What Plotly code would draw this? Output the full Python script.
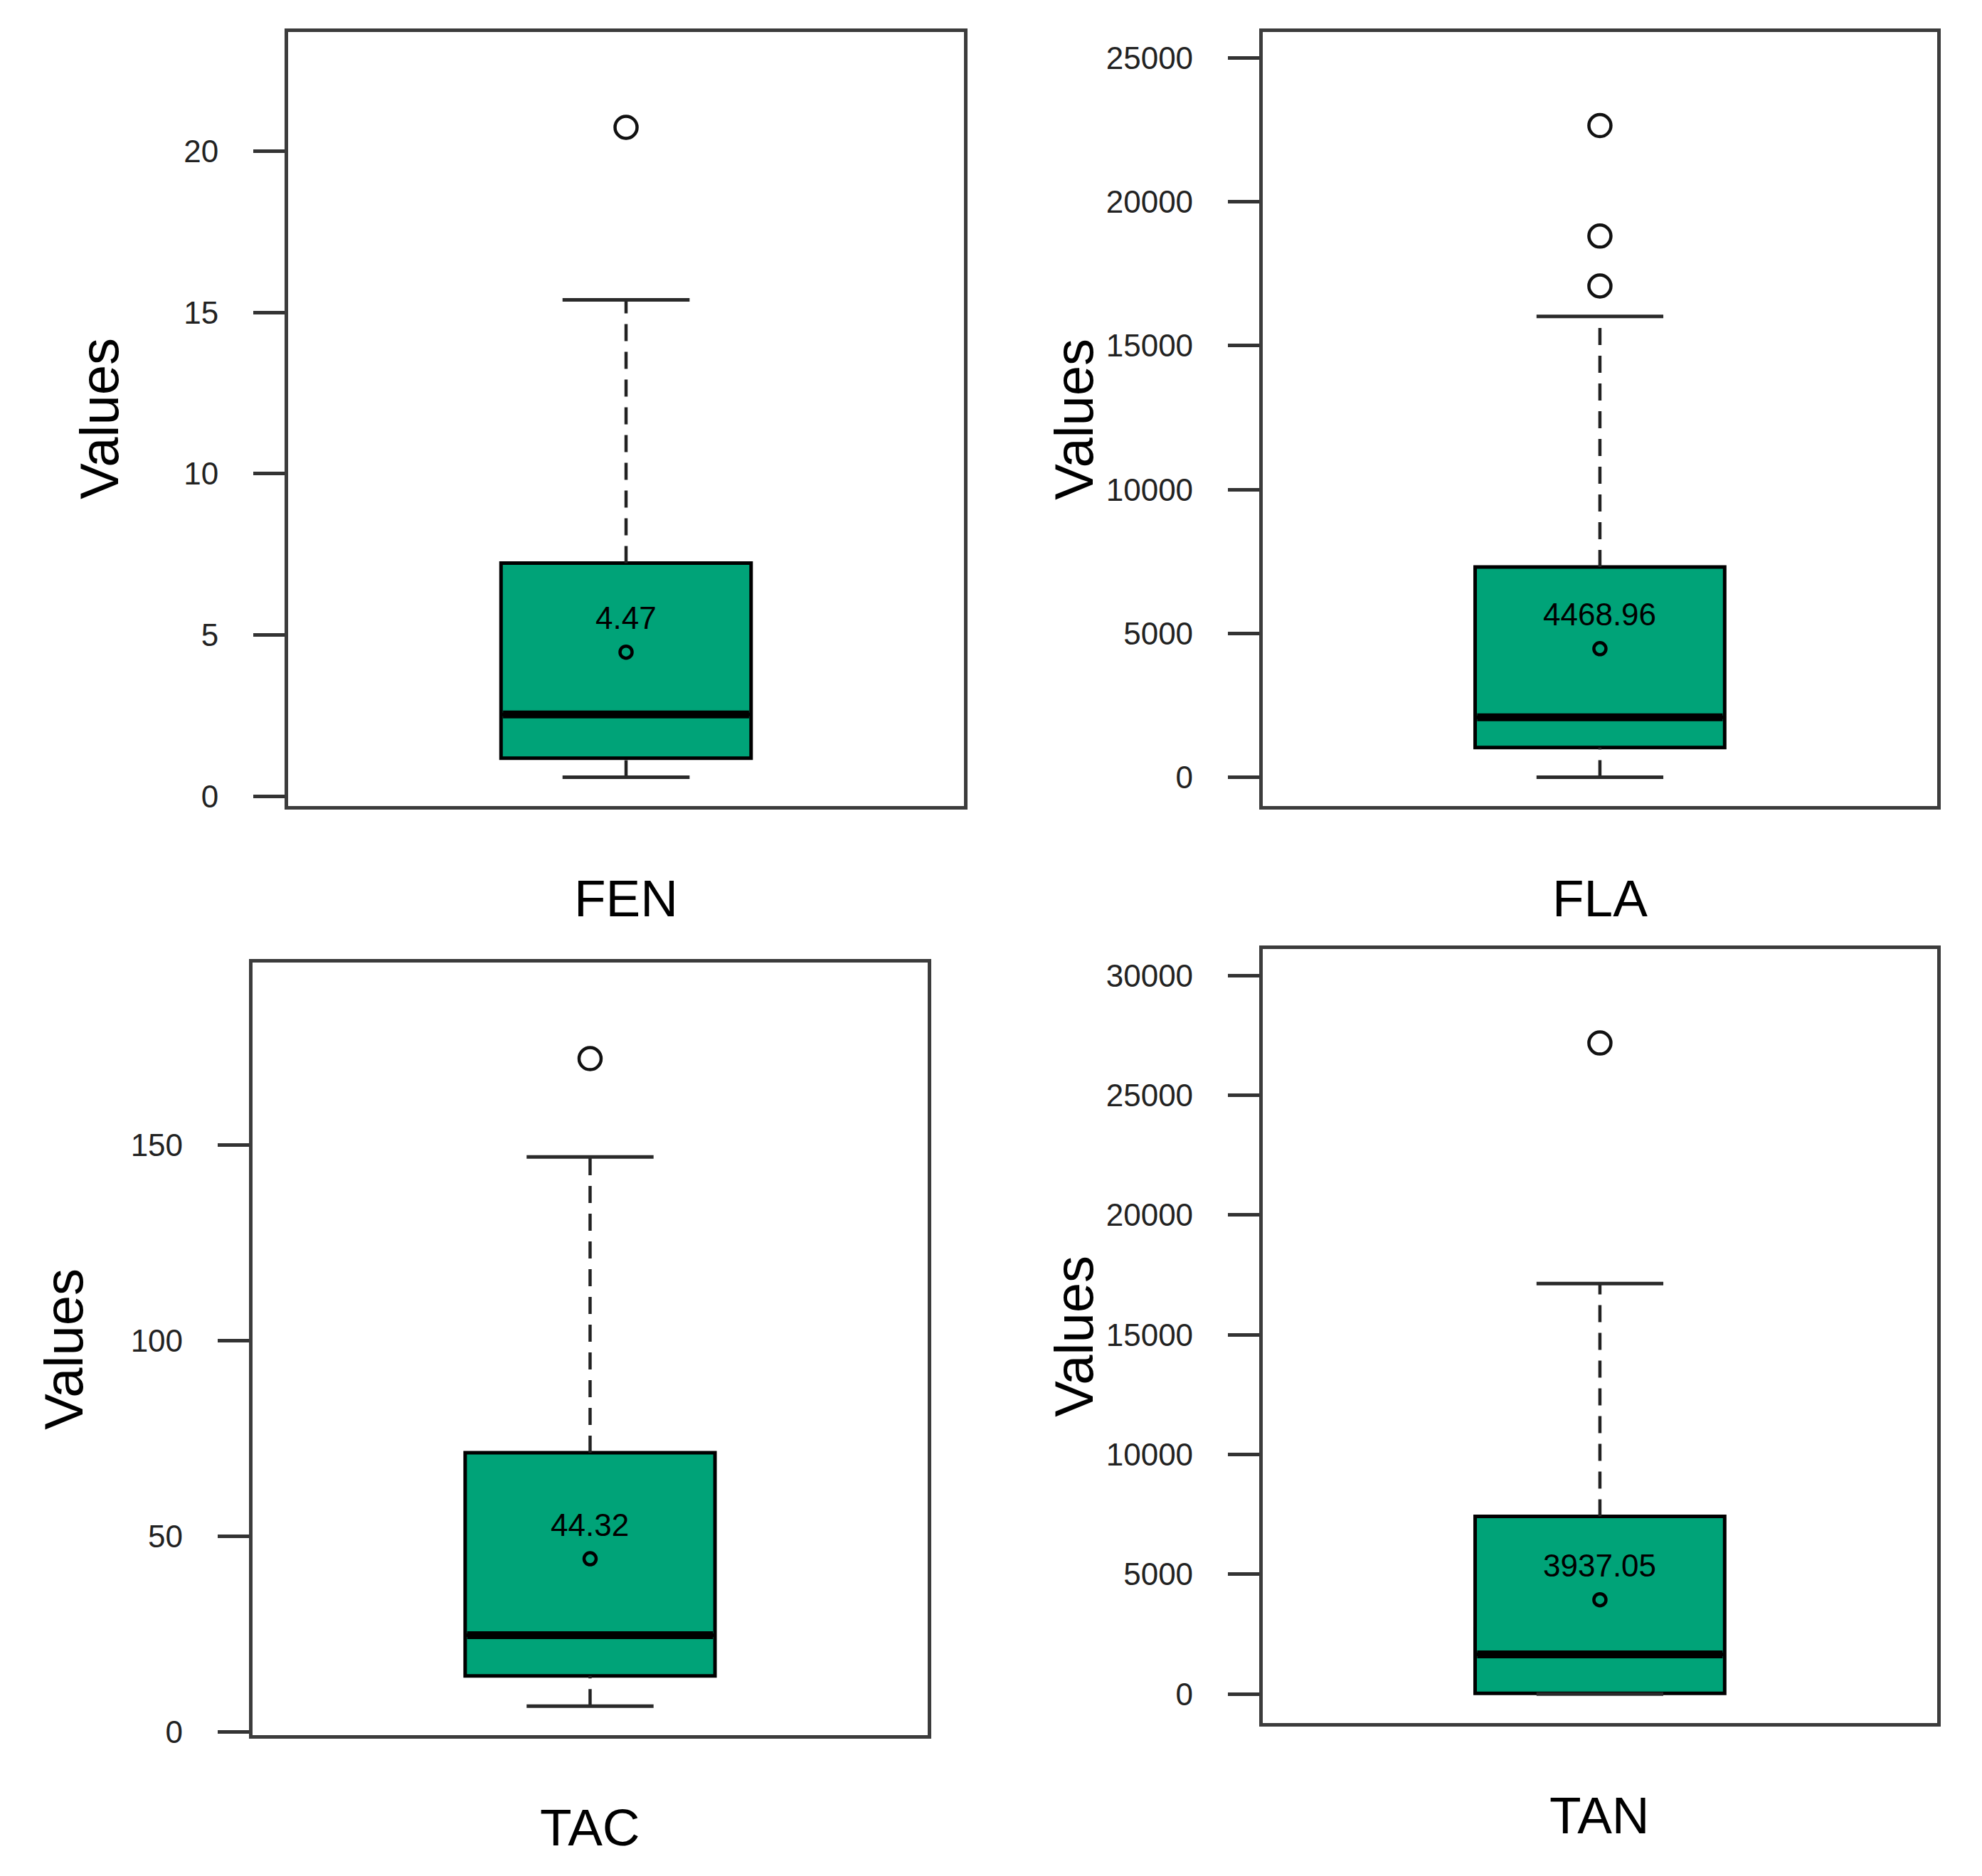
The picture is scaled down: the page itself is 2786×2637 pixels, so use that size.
import plotly.graph_objects as go

# summary stats
names = ["FEN", "FLA", "TAC", "TAN"]
q1 = [1.18, 1032, 14.4, 30]
medians = [2.54, 2085, 24.8, 1657]
q3 = [7.23, 7308, 71.4, 7420]
lower_whisker = [0.59, 0, 6.65, 0]
upper_whisker = [15.39, 16020, 147.0, 17140]
means = [4.47, 4468.96, 44.32, 3937.05]
outliers = [[20.74], [22650, 18810, 17075], [172.1], [27180]]
tick_values = [
    [0, 5, 10, 15, 20],
    [0, 5000, 10000, 15000, 20000, 25000],
    [0, 50, 100, 150],
    [0, 5000, 10000, 15000, 20000, 25000, 30000],
]

# panel placement (paper fractions)
x_domains = [[0.1425, 0.4835], [0.6342, 0.9745], [0.1245, 0.4652], [0.6342, 0.9745]]
y_domains = [[0.5700, 0.9860], [0.5700, 0.9860], [0.0709, 0.4858], [0.0774, 0.4930]]

FONT = "Liberation Sans, Arial, sans-serif"
GREEN = "#00A378"
BOX_W = 0.37
CAP = 0.094

fig = go.Figure()
annotations = []

for i, name in enumerate(names):
    k = "" if i == 0 else str(i + 1)
    xa, ya = "x" + k, "y" + k

    # box (whiskers drawn separately so they can be dashed)
    fig.add_trace(go.Box(
        x=[1], q1=[q1[i]], median=[medians[i]], q3=[q3[i]],
        lowerfence=[q1[i]], upperfence=[q3[i]],
        width=BOX_W, whiskerwidth=0, boxpoints=False,
        fillcolor=GREEN, line=dict(color="black", width=5),
        xaxis=xa, yaxis=ya, showlegend=False, hoverinfo="skip",
    ))
    # dashed whiskers
    for a, b in [(q3[i], upper_whisker[i]), (lower_whisker[i], q1[i])]:
        fig.add_trace(go.Scatter(
            x=[1, 1], y=[a, b], mode="lines",
            line=dict(color="#222222", width=4.5, dash="24px,15px"),
            xaxis=xa, yaxis=ya, showlegend=False, hoverinfo="skip",
        ))
    # whisker caps
    for v in [upper_whisker[i], lower_whisker[i]]:
        fig.add_trace(go.Scatter(
            x=[1 - CAP, 1 + CAP], y=[v, v], mode="lines",
            line=dict(color="#2a2a2a", width=5),
            xaxis=xa, yaxis=ya, showlegend=False, hoverinfo="skip",
        ))
    # thick median
    fig.add_trace(go.Scatter(
        x=[1 - BOX_W / 2 + 0.003, 1 + BOX_W / 2 - 0.003], y=[medians[i], medians[i]],
        mode="lines", line=dict(color="black", width=11),
        xaxis=xa, yaxis=ya, showlegend=False, hoverinfo="skip",
    ))
    # mean point
    fig.add_trace(go.Scatter(
        x=[1], y=[means[i]], mode="markers",
        marker=dict(symbol="circle-open", size=17, color="black", line=dict(width=4.5)),
        xaxis=xa, yaxis=ya, showlegend=False, hoverinfo="skip",
    ))
    # outliers
    fig.add_trace(go.Scatter(
        x=[1] * len(outliers[i]), y=outliers[i], mode="markers",
        marker=dict(symbol="circle-open", size=31, color="#111111", line=dict(width=4.5)),
        xaxis=xa, yaxis=ya, showlegend=False, hoverinfo="skip",
    ))

    lo = min(lower_whisker[i], min(outliers[i]))
    hi = max(outliers[i]) * 1.1
    pad = 0.04 * (hi - lo)

    axis_line = dict(showline=True, mirror=True, linecolor="#3c3c3c", linewidth=5,
                     showgrid=False, zeroline=False)
    fig.layout["xaxis" + k] = dict(
        domain=x_domains[i], range=[0.5, 1.5], anchor=ya,
        showticklabels=False, ticks="", **axis_line,
    )
    fig.layout["yaxis" + k] = dict(
        domain=y_domains[i], range=[lo - pad, hi + pad], anchor=xa,
        tickvals=tick_values[i], ticktext=[str(t) for t in tick_values[i]],
        ticks="outside", ticklen=44, tickwidth=5, tickcolor="#333333",
        ticklabelstandoff=40,
        tickfont=dict(family=FONT, size=44, color="#222222"), **axis_line,
    )

    # mean label above the mean point
    annotations.append(dict(
        x=1, y=means[i], xref=xa, yref=ya, text=f"{means[i]:.2f}",
        showarrow=False, yshift=48, font=dict(family=FONT, size=44, color="black"),
    ))
    # y title
    annotations.append(dict(
        x=0, y=0.5, xref=xa + " domain", yref=ya + " domain", text="Values",
        textangle=-90, showarrow=False, xshift=-265, xanchor="center", yanchor="middle",
        font=dict(family=FONT, size=76, color="black"),
    ))
    # group name under panel
    annotations.append(dict(
        x=0.5, y=0, xref=xa + " domain", yref=ya + " domain", text=name,
        showarrow=False, yshift=-130, xanchor="center", yanchor="middle",
        font=dict(family=FONT, size=73, color="black"),
    ))

fig.update_layout(
    width=2786, height=2637,
    margin=dict(l=0, r=0, t=0, b=0),
    paper_bgcolor="white", plot_bgcolor="white",
    annotations=annotations,
)

fig.write_html("out.html")
